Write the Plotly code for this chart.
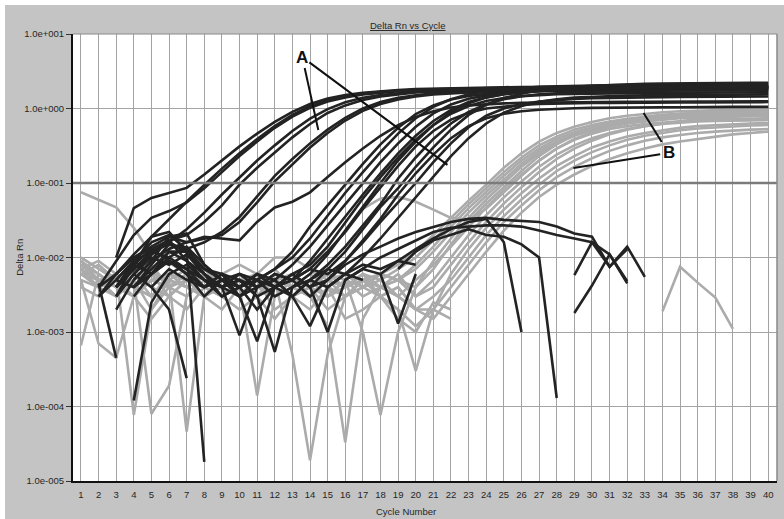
import math
import plotly.graph_objects as go

CYCLES = list(range(1, 41))
X_RANGE = [0.55, 40.5]
THRESHOLD = 0.1
Y_TICKS = [1e1, 1e0, 1e-1, 1e-2, 1e-3, 1e-4, 1e-5]
Y_TICK_TEXT = ["1.0e+001", "1.0e+000", "1.0e-001", "1.0e-002", "1.0e-003", "1.0e-004", "1.0e-005"]

# ---- dark, early amplifiers (group A, first cluster) : values from cycle 1
E1 = [None, None, 0.010, 0.046, 0.063, 0.074, 0.086, 0.13, 0.2, 0.31, 0.46, 0.66, 0.9, 1.15, 1.36, 1.52, 1.63, 1.71, 1.77, 1.82, 1.85, 1.88, 1.9, 1.92, 1.93, 1.94, 1.95, 1.96, 1.97, 1.97, 1.98, 1.98, 1.99, 1.99, 2.0, 2.0, 2.0, 2.01, 2.01, 2.02]
E2 = [None, 0.004, 0.009, 0.02, 0.034, 0.042, 0.055, 0.085, 0.14, 0.23, 0.36, 0.55, 0.78, 1.02, 1.24, 1.41, 1.54, 1.63, 1.7, 1.75, 1.79, 1.82, 1.84, 1.86, 1.87, 1.88, 1.89, 1.9, 1.91, 1.92, 1.92, 1.93, 1.93, 1.94, 1.94, 1.95, 1.95, 1.95, 1.96, 1.96]
E3 = [None, 0.003, 0.006, 0.011, 0.019, 0.033, 0.056, 0.094, 0.156, 0.25, 0.39, 0.58, 0.82, 1.07, 1.29, 1.46, 1.58, 1.67, 1.73, 1.78, 1.81, 1.84, 1.86, 1.88, 1.89, 1.9, 1.91, 1.92, 1.93, 1.93, 1.94, 1.95, 1.95, 1.96, 1.96, 1.97, 1.97, 1.98, 1.98, 1.99]
E4 = [None, None, 0.005, 0.009, 0.012, 0.016, 0.024, 0.04, 0.07, 0.12, 0.2, 0.32, 0.5, 0.73, 0.98, 1.21, 1.39, 1.52, 1.61, 1.68, 1.73, 1.76, 1.79, 1.81, 1.82, 1.83, 1.84, 1.85, 1.86, 1.86, 1.87, 1.87, 1.88, 1.88, 1.88, 1.89, 1.89, 1.89, 1.9, 1.9]
E5 = [None, None, 0.004, 0.008, 0.013, 0.017, 0.02, 0.03, 0.05, 0.095, 0.16, 0.26, 0.41, 0.62, 0.87, 1.1, 1.3, 1.45, 1.56, 1.64, 1.7, 1.74, 1.77, 1.79, 1.81, 1.82, 1.83, 1.84, 1.85, 1.85, 1.86, 1.86, 1.87, 1.87, 1.87, 1.88, 1.88, 1.88, 1.89, 1.89]
E6 = [None, None, 0.004, 0.007, 0.012, 0.015, 0.013, 0.016, 0.022, 0.035, 0.065, 0.125, 0.21, 0.34, 0.52, 0.75, 1.0, 1.22, 1.39, 1.51, 1.6, 1.66, 1.7, 1.73, 1.75, 1.77, 1.78, 1.79, 1.8, 1.8, 1.81, 1.81, 1.82, 1.82, 1.82, 1.83, 1.83, 1.83, 1.84, 1.84]
E7 = [None, None, 0.006, 0.01, 0.014, 0.019, 0.016, 0.018, 0.02, 0.03, 0.055, 0.105, 0.18, 0.3, 0.47, 0.69, 0.93, 1.15, 1.32, 1.45, 1.54, 1.6, 1.64, 1.67, 1.69, 1.7, 1.71, 1.72, 1.73, 1.73, 1.74, 1.74, 1.75, 1.75, 1.75, 1.76, 1.76, 1.76, 1.77, 1.77]
E8 = [None, None, None, 0.005, 0.009, 0.013, 0.016, 0.019, 0.018, 0.017, 0.03, 0.047, 0.056, 0.075, 0.12, 0.19, 0.29, 0.43, 0.6, 0.77, 0.92, 1.03, 1.1, 1.14, 1.17, 1.19, 1.2, 1.21, 1.22, 1.22, 1.23, 1.23, 1.23, 1.24, 1.24, 1.24, 1.24, 1.25, 1.25, 1.25]

# ---- dark, later amplifiers (group A, second cluster)
M1 = [None, None, 0.003, 0.006, 0.011, 0.017, 0.009, 0.005, 0.004, 0.006, 0.005, 0.007, 0.012, 0.026, 0.05, 0.095, 0.18, 0.33, 0.55, 0.84, 1.1, 1.32, 1.47, 1.57, 1.64, 1.69, 1.73, 1.76, 1.78, 1.8, 1.82, 1.83, 1.84, 1.85, 1.86, 1.87, 1.87, 1.88, 1.88, 1.89]
M2 = [None, None, 0.002, 0.005, 0.009, 0.019, 0.021, 0.008, 0.005, 0.004, 0.006, 0.005, 0.008, 0.014, 0.027, 0.052, 0.1, 0.19, 0.34, 0.57, 0.86, 1.13, 1.35, 1.5, 1.6, 1.67, 1.72, 1.76, 1.79, 1.81, 1.83, 1.85, 1.86, 1.87, 1.88, 1.89, 1.9, 1.9, 1.91, 1.91]
M3 = [None, None, 0.004, 0.007, 0.012, 0.01, 0.007, 0.004, 0.005, 0.003, 0.004, 0.006, 0.005, 0.009, 0.018, 0.036, 0.07, 0.135, 0.25, 0.43, 0.68, 0.96, 1.22, 1.42, 1.56, 1.66, 1.73, 1.78, 1.82, 1.85, 1.87, 1.89, 1.9, 1.91, 1.92, 1.93, 1.94, 1.94, 1.95, 1.95]
M4 = [None, None, None, 0.004, 0.008, 0.015, 0.012, 0.006, 0.003, 0.004, 0.005, 0.003, 0.004, 0.006, 0.011, 0.023, 0.048, 0.1, 0.2, 0.36, 0.6, 0.9, 1.18, 1.4, 1.55, 1.66, 1.74, 1.8, 1.85, 1.88, 1.91, 1.93, 1.95, 1.96, 1.97, 1.98, 1.99, 2.0, 2.0, 2.01]
M5 = [None, 0.003, 0.005, 0.009, 0.016, 0.02, 0.013, 0.007, 0.006, 0.004, 0.005, 0.007, 0.01, 0.018, 0.037, 0.074, 0.14, 0.26, 0.46, 0.74, 1.05, 1.33, 1.55, 1.7, 1.81, 1.89, 1.95, 1.99, 2.02, 2.05, 2.07, 2.09, 2.1, 2.11, 2.12, 2.13, 2.14, 2.14, 2.15, 2.15]
M6 = [None, None, 0.003, 0.006, 0.01, 0.008, 0.011, 0.006, 0.004, 0.005, 0.003, 0.004, 0.006, 0.008, 0.014, 0.03, 0.062, 0.12, 0.22, 0.38, 0.6, 0.85, 1.08, 1.26, 1.38, 1.46, 1.51, 1.55, 1.57, 1.59, 1.6, 1.61, 1.62, 1.62, 1.63, 1.63, 1.64, 1.64, 1.64, 1.65]
M7 = [None, None, 0.005, 0.004, 0.007, 0.012, 0.009, 0.006, 0.004, 0.003, 0.005, 0.004, 0.006, 0.004, 0.007, 0.012, 0.024, 0.048, 0.085, 0.165, 0.3, 0.52, 0.82, 1.12, 1.38, 1.58, 1.74, 1.86, 1.95, 2.02, 2.07, 2.11, 2.14, 2.16, 2.18, 2.19, 2.2, 2.21, 2.22, 2.22]
M8 = [None, None, None, 0.004, 0.006, 0.009, 0.006, 0.003, 0.005, 0.004, 0.002, 0.004, 0.005, 0.003, 0.005, 0.009, 0.016, 0.03, 0.055, 0.1, 0.19, 0.34, 0.56, 0.8, 1.0, 1.14, 1.24, 1.3, 1.34, 1.37, 1.39, 1.4, 1.41, 1.42, 1.43, 1.43, 1.44, 1.44, 1.45, 1.45]
M9 = [None, None, 0.004, 0.008, 0.006, 0.01, 0.014, 0.008, 0.005, 0.006, 0.004, 0.005, 0.003, 0.005, 0.008, 0.014, 0.027, 0.052, 0.115, 0.22, 0.39, 0.63, 0.9, 1.14, 1.33, 1.46, 1.55, 1.61, 1.65, 1.68, 1.7, 1.72, 1.73, 1.74, 1.75, 1.75, 1.76, 1.76, 1.77, 1.77]
M10 = [None, None, None, 0.003, 0.006, 0.009, 0.007, 0.005, 0.003, 0.004, 0.006, 0.004, 0.003, 0.005, 0.004, 0.006, 0.01, 0.018, 0.034, 0.065, 0.125, 0.23, 0.4, 0.63, 0.88, 1.08, 1.23, 1.33, 1.4, 1.44, 1.47, 1.49, 1.5, 1.51, 1.52, 1.53, 1.53, 1.54, 1.54, 1.55]
M11 = [None, None, 0.004, 0.007, 0.011, 0.016, 0.012, 0.007, 0.005, 0.004, 0.006, 0.004, 0.005, 0.007, 0.006, 0.009, 0.017, 0.033, 0.07, 0.135, 0.24, 0.4, 0.58, 0.74, 0.85, 0.92, 0.96, 0.99, 1.01, 1.02, 1.03, 1.03, 1.04, 1.04, 1.04, 1.05, 1.05, 1.05, 1.05, 1.05]
M12 = [None, 0.004, 0.006, 0.01, 0.013, 0.009, 0.006, 0.004, 0.006, 0.005, 0.004, 0.006, 0.005, 0.007, 0.012, 0.022, 0.045, 0.088, 0.17, 0.31, 0.5, 0.71, 0.88, 1.0, 1.07, 1.12, 1.15, 1.17, 1.18, 1.19, 1.19, 1.2, 1.2, 1.2, 1.21, 1.21, 1.21, 1.21, 1.22, 1.22]

# ---- grey amplifiers (group B)
B1 = [0.008, 0.006, 0.004, 0.006, 0.003, 0.005, 0.007, 0.004, 0.005, 0.003, 0.006, 0.004, 0.005, 0.007, 0.004, 0.003, 0.005, 0.006, 0.008, 0.012, 0.02, 0.034, 0.058, 0.095, 0.16, 0.25, 0.36, 0.47, 0.57, 0.66, 0.74, 0.8, 0.85, 0.89, 0.92, 0.94, 0.96, 0.97, 0.98, 0.99]
B2 = [0.007, 0.004, 0.003, 0.005, 0.008, 0.004, 0.003, 0.006, 0.004, 0.005, 0.003, 0.006, 0.004, 0.003, 0.005, 0.004, 0.006, 0.005, 0.007, 0.01, 0.017, 0.03, 0.052, 0.085, 0.14, 0.22, 0.32, 0.42, 0.52, 0.6, 0.67, 0.73, 0.78, 0.82, 0.85, 0.87, 0.89, 0.9, 0.91, 0.92]
B3 = [0.009, 0.005, 0.004, 0.003, 0.005, 0.006, 0.004, 0.003, 0.005, 0.004, 0.006, 0.005, 0.0005, 1.9e-5, 0.0005, 0.003, 0.004, 0.006, 0.005, 0.008, 0.014, 0.026, 0.046, 0.077, 0.125, 0.2, 0.29, 0.39, 0.48, 0.56, 0.63, 0.69, 0.74, 0.78, 0.81, 0.83, 0.85, 0.86, 0.87, 0.88]
B4 = [0.006, 0.008, 0.005, 0.004, 0.006, 0.003, 0.005, 0.007, 0.004, 0.003, 0.005, 0.004, 0.006, 0.003, 0.0012, 3.3e-5, 0.0015, 0.004, 0.005, 0.007, 0.012, 0.022, 0.04, 0.068, 0.11, 0.18, 0.27, 0.36, 0.45, 0.53, 0.6, 0.66, 0.71, 0.75, 0.78, 0.8, 0.82, 0.83, 0.84, 0.85]
B5 = [0.005, 0.004, 0.006, 7.7e-5, 0.002, 0.005, 0.004, 0.006, 0.003, 0.005, 0.004, 0.003, 0.005, 0.004, 0.003, 0.005, 0.001, 7.7e-5, 0.001, 0.004, 0.009, 0.018, 0.034, 0.06, 0.1, 0.165, 0.25, 0.34, 0.43, 0.51, 0.57, 0.63, 0.67, 0.71, 0.74, 0.76, 0.77, 0.78, 0.79, 0.8]
B6 = [0.075, 0.06, 0.047, 0.025, 0.011, 0.0085, 0.006, 0.0055, 0.005, 0.006, 0.004, 0.005, 0.006, 0.004, 0.005, 0.003, 0.004, 0.006, 0.005, 0.004, 0.007, 0.015, 0.03, 0.053, 0.088, 0.145, 0.23, 0.33, 0.44, 0.54, 0.63, 0.7, 0.76, 0.81, 0.85, 0.88, 0.9, 0.92, 0.93, 0.94]
B7 = [0.006, 0.005, 0.003, 0.005, 8e-5, 1.9e-4, 0.003, 0.005, 0.004, 0.006, 0.005, 0.004, 0.006, 0.008, 0.012, 0.022, 0.045, 0.062, 0.065, 0.056, 0.044, 0.034, 0.032, 0.045, 0.075, 0.125, 0.2, 0.29, 0.38, 0.46, 0.53, 0.58, 0.62, 0.65, 0.68, 0.7, 0.71, 0.72, 0.73, 0.74]
B8 = [0.01, 0.007, 0.005, 0.004, 0.006, 0.005, 4.6e-5, 0.003, 0.006, 0.004, 0.005, 0.007, 0.004, 0.005, 0.003, 0.004, 0.006, 0.004, 0.003, 0.005, 0.008, 0.014, 0.026, 0.047, 0.08, 0.13, 0.2, 0.29, 0.39, 0.48, 0.57, 0.64, 0.7, 0.75, 0.79, 0.82, 0.85, 0.87, 0.88, 0.89]
B9 = [0.007, 0.009, 0.006, 0.004, 0.003, 0.005, 0.004, 0.003, 0.005, 0.004, 1.4e-4, 0.003, 0.005, 0.004, 0.006, 0.005, 0.003, 0.004, 0.005, 0.003, 0.005, 0.01, 0.02, 0.037, 0.064, 0.105, 0.165, 0.24, 0.32, 0.4, 0.47, 0.53, 0.58, 0.62, 0.65, 0.67, 0.68, 0.69, 0.7, 0.7]
B10 = [6.6e-4, 0.006, 0.004, 0.005, 0.007, 0.004, 0.005, 0.003, 0.004, 0.006, 0.003, 0.005, 0.004, 0.006, 0.004, 0.003, 0.005, 0.004, 0.006, 0.003, 0.004, 0.008, 0.016, 0.03, 0.053, 0.088, 0.14, 0.21, 0.29, 0.37, 0.45, 0.52, 0.58, 0.63, 0.68, 0.72, 0.75, 0.78, 0.8, 0.82]
B11 = [0.005, 7e-4, 4.5e-4, 0.003, 0.005, 0.004, 0.006, 0.004, 0.003, 0.005, 0.004, 0.006, 0.004, 0.003, 0.005, 0.004, 0.006, 0.003, 0.002, 3e-4, 0.002, 0.006, 0.013, 0.025, 0.044, 0.073, 0.115, 0.17, 0.23, 0.3, 0.36, 0.42, 0.47, 0.51, 0.55, 0.58, 0.6, 0.62, 0.63, 0.64]
B12 = [0.008, 0.005, 0.006, 0.004, 0.003, 0.006, 0.005, 0.004, 0.006, 0.003, 0.004, 0.005, 0.003, 0.004, 0.006, 0.004, 0.005, 0.003, 0.004, 0.002, 0.003, 0.005, 0.01, 0.02, 0.036, 0.06, 0.095, 0.145, 0.2, 0.26, 0.32, 0.38, 0.43, 0.47, 0.51, 0.54, 0.56, 0.58, 0.59, 0.6]
B13 = [0.006, 0.004, 0.005, 0.007, 0.004, 0.003, 0.005, 0.004, 0.003, 0.005, 0.006, 0.003, 0.004, 0.005, 0.003, 0.004, 0.005, 0.004, 0.003, 0.002, 0.002, 0.004, 0.008, 0.016, 0.03, 0.05, 0.08, 0.12, 0.165, 0.215, 0.27, 0.32, 0.37, 0.41, 0.44, 0.47, 0.49, 0.51, 0.52, 0.53]
B14 = [0.009, 0.006, 0.004, 0.003, 0.005, 0.004, 0.006, 0.003, 0.004, 0.005, 0.003, 0.004, 0.006, 0.004, 0.003, 0.005, 0.004, 0.003, 0.004, 0.002, 0.0015, 0.003, 0.006, 0.012, 0.023, 0.04, 0.065, 0.095, 0.13, 0.17, 0.21, 0.25, 0.29, 0.33, 0.36, 0.39, 0.42, 0.45, 0.47, 0.49]

# ---- grey non-amplifying wells: (start cycle, values)
GN1_START, GN1 = 1, [0.007, 0.005, 0.003, 0.005, 0.002, 0.004, 0.006, 0.003, 0.002, 0.004, 0.005, 0.002, 0.003, 0.004, 0.002, 0.003, 0.005, 0.003, 0.002, 0.0012, 0.002, 0.0015]
GN2_START, GN2 = 1, [0.004, 0.003, 0.005, 0.003, 0.0015, 0.003, 0.002, 0.004, 0.003, 0.002, 0.003, 0.0015, 0.003, 0.002, 0.004, 0.0015, 0.002, 0.003, 0.0015, 0.001, 0.0025, 0.002]
GN3_START, GN3 = 1, [0.01, 0.007, 0.005, 0.008, 0.006, 0.009, 0.007, 0.005, 0.006, 0.008, 0.006, 0.01, 0.01, 0.007, 0.005, 0.006, 0.004, 0.005, 0.003, 0.002]
GS_START, GS = 34, [0.0019, 0.0075, 0.0046, 0.0029, 0.0011]

# ---- dark non-amplifying / failed wells: (start cycle, values)
ND1_START, ND1 = 3, [0.004, 0.009, 0.006, 0.012, 0.012, 1.8e-5]
ND2_START, ND2 = 4, [1.2e-4, 0.0025, 0.006, 0.008, 0.005, 0.004, 0.0009, 0.004, 0.005, 0.003, 0.0012, 0.004, 0.006, 0.005]
ND3_START, ND3 = 2, [0.0045, 0.00045, None, 0.004, 0.007, 0.005, 0.004, 0.006, 0.003, 0.00075, 0.004, 0.006, 0.004, 0.001, 0.005, 0.007, 0.006, 0.0013, 0.006]
ND4_START, ND4 = 3, [0.003, 0.008, 0.019, 0.022, 0.012, 0.006, 0.004, 0.005, 0.003, 0.00054, 0.004, 0.005, 0.007, 0.006, 0.008, 0.007, 0.009, 0.008]
ND5_START, ND5 = 4, [0.006, 0.004, 0.002, 2.4e-4]
W1_START, W1 = 14, [0.004, 0.005, 0.008, 0.011, 0.014, 0.018, 0.022, 0.026, 0.03, 0.033, 0.034, 0.032, 0.031, 0.03, 0.026, 0.021, 0.019, 0.0075, 0.014, 0.0055]
W2_START, W2 = 16, [0.005, 0.007, 0.01, 0.013, 0.017, 0.022, 0.025, 0.026, 0.027, 0.027, 0.026, 0.023, 0.02, 0.018, 0.016, 0.011, 0.0045]
W3_START, W3 = 18, [0.006, 0.009, 0.013, 0.018, 0.024, 0.03, 0.033, 0.016, 0.001]
W4_START, W4 = 19, [0.007, 0.012, 0.017, 0.02, 0.024, 0.02, 0.019, 0.015, 0.01, 1.3e-4]
Z1_START, Z1 = 29, [0.0058, 0.016, 0.0075, 0.013]
Z2_START, Z2 = 29, [0.0018, 0.0042, 0.011, 0.0048]

DARK_FULL = [E1, E2, E3, E4, E5, E6, E7, E8, M1, M2, M3, M4, M5, M6, M7, M8, M9, M10, M11, M12]
GREY_FULL = [B1, B2, B3, B4, B5, B6, B7, B8, B9, B10, B11, B12, B13, B14]
GREY_PART = [(GN1_START, GN1), (GN2_START, GN2), (GN3_START, GN3), (GS_START, GS)]
DARK_PART = [(ND1_START, ND1), (ND2_START, ND2), (ND3_START, ND3), (ND4_START, ND4), (ND5_START, ND5),
             (W1_START, W1), (W2_START, W2), (W3_START, W3), (W4_START, W4), (Z1_START, Z1), (Z2_START, Z2)]

DARK = "#232323"
GREY = "#ababab"
LW = 2.6


def xs(start, vals):
    return CYCLES[start - 1:start - 1 + len(vals)]


fig = go.Figure()


def add(start, vals, color):
    fig.add_trace(go.Scatter(x=xs(start, vals), y=vals, mode="lines",
                             line=dict(color=color, width=LW), connectgaps=False,
                             showlegend=False, hoverinfo="skip"))


for s, v in GREY_PART:
    add(s, v, GREY)
for v in GREY_FULL:
    add(1, v, GREY)
for s, v in DARK_PART:
    add(s, v, DARK)
for v in DARK_FULL:
    add(1, v, DARK)

# threshold line
fig.add_trace(go.Scatter(x=X_RANGE, y=[THRESHOLD, THRESHOLD], mode="lines",
                         line=dict(color="#7b7b7b", width=2.6), showlegend=False, hoverinfo="skip"))

FONT = "Arial, Liberation Sans, sans-serif"

fig.update_layout(
    width=784, height=519,
    margin=dict(l=73, r=7, t=34, b=38),
    paper_bgcolor="#c4c4c4",
    plot_bgcolor="white",
    font=dict(family=FONT, size=9.5, color="#262626"),
    xaxis=dict(range=X_RANGE, tickmode="array", tickvals=CYCLES, ticktext=[str(c) for c in CYCLES],
               showgrid=True, gridcolor="#a3a3a3", gridwidth=1, zeroline=False,
               showline=True, linecolor="#111111", linewidth=2,
               ticks="outside", ticklen=4, tickcolor="#c4c4c4",
               tickfont=dict(size=9.5, color="#262626")),
    yaxis=dict(type="log", range=[-5, 1], tickmode="array", tickvals=Y_TICKS, ticktext=Y_TICK_TEXT,
               showgrid=True, gridcolor="#a3a3a3", gridwidth=1, zeroline=False,
               showline=True, linecolor="#111111", linewidth=2,
               ticks="outside", ticklen=5, tickcolor="#333333",
               tickfont=dict(size=9.5, color="#262626")),
    shapes=[
        dict(type="line", xref="paper", yref="paper", x0=0, x1=1, y0=1, y1=1,
             line=dict(color="#8a8a8a", width=1)),
        dict(type="line", xref="paper", yref="paper", x0=1, x1=1, y0=0, y1=1,
             line=dict(color="#8a8a8a", width=1.5)),
        dict(type="rect", xref="paper", yref="paper", x0=-0.11, x1=1.02, y0=1.065, y1=1.09,
             fillcolor="white", line=dict(width=0), layer="below"),
        dict(type="rect", xref="paper", yref="paper", x0=-0.11, x1=-0.0966, y0=-0.1, y1=1.09,
             fillcolor="white", line=dict(width=0), layer="below"),
    ],
)

# titles
fig.add_annotation(xref="paper", yref="paper", x=0.476, y=1.035, text="<u>Delta Rn vs Cycle</u>",
                   showarrow=False, font=dict(size=9.5, color="#262626"))
fig.add_annotation(xref="paper", yref="paper", x=0.473, y=-0.068, text="Cycle Number",
                   showarrow=False, font=dict(size=9.5, color="#262626"), yanchor="middle")
fig.add_annotation(xref="paper", yref="paper", x=-0.087, y=0.5, text="Delta Rn", textangle=-90,
                   showarrow=False, font=dict(size=9.5, color="#262626"))

# labels A and B with pointer lines
A_POS = (13.56, 4.9)
A_TARGETS = [(14.47, 0.514), (21.8, 0.175)]
B_POS = (34.35, 0.253)
B_TARGETS = [(32.93, 0.871), (28.95, 0.159)]

for label, pos, targets in [("A", A_POS, A_TARGETS), ("B", B_POS, B_TARGETS)]:
    for i, (tx, ty) in enumerate(targets):
        fig.add_annotation(x=tx, y=math.log10(ty), xref="x", yref="y",
                           ax=pos[0], ay=math.log10(pos[1]), axref="x", ayref="y",
                           text=f"<b>{label}</b>" if i == 0 else "",
                           startstandoff=0 if i == 0 else 7,
                           showarrow=True, arrowhead=0, arrowwidth=2, arrowcolor="#111111",
                           font=dict(size=17, color="#111111", family=FONT))

fig.write_html("out.html", config={"displayModeBar": False, "staticPlot": True},
               post_script="document.body.style.margin='0px';document.body.style.overflow='hidden';")
